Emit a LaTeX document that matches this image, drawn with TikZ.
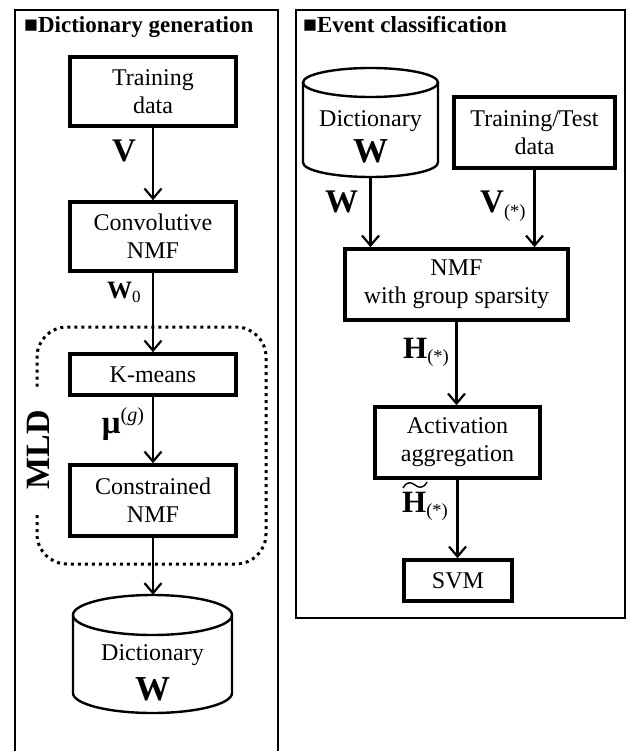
\documentclass[tikz,border=0pt]{standalone}
\usepackage{fontspec}
\setmainfont{Liberation Serif}
\usetikzlibrary{arrows.meta}
\newcommand{\mysub}[1]{\raisebox{-4.5pt}{\fontsize{18.5}{18.5}\selectfont\mdseries #1}}
\newcommand{\mysup}[1]{\raisebox{12pt}{\fontsize{20}{20}\selectfont\mdseries #1}}
\begin{document}
\begin{tikzpicture}[x=1pt,y=-1pt,
  frame/.style={draw, line width=1.7pt},
  proc/.style={draw, line width=3.6pt, inner sep=0pt, align=center, font=\fontsize{24}{28}\selectfont},
  cyl/.style={line width=2.4pt},
  flow/.style={line width=2.2pt, -{Straight Barb[length=10pt,width=17pt]}},
  lbl/.style={inner sep=0pt, anchor=base west, font=\fontsize{33}{33}\selectfont\bfseries},
  ttl/.style={inner sep=0pt, anchor=base west, font=\fontsize{23}{26}\selectfont\bfseries},
  ctext/.style={inner sep=0pt, anchor=base, font=\fontsize{24}{28}\selectfont},
  cw/.style={inner sep=0pt, anchor=base, font=\fontsize{35}{35}\selectfont\bfseries},
  mld/.style={draw, line width=3pt, dash pattern=on 3pt off 4pt, rounded corners=30pt}
]
\useasboundingbox (0,0) rectangle (629,751);

% panels
\draw[frame] (15,770) -- (15,10) -- (278,10) -- (278,770);
\draw[frame] (296,10) rectangle (625,618);

% titles
\node[ttl] (t1) at (24,33) {■Dictionary generation};
\node[ttl] (t2) at (303,33) {■Event classification};

% left column
\node[proc, minimum width=166pt, minimum height=69pt] (train) at (153,91.5) {Training\\data};
\node[proc, minimum width=166pt, minimum height=69pt] (conv) at (153,236.5) {Convolutive\\NMF};
\node[proc, minimum width=166pt, minimum height=41pt] (kmeans) at (153,374.5) {K-means};
\node[proc, minimum width=166pt, minimum height=71pt] (cnmf) at (153,500.5) {Constrained\\NMF};

\node[minimum width=159pt, minimum height=118pt, inner sep=0pt] (dictL) at (152.5,654) {};
\draw[cyl] (152.5,615) ellipse [x radius=79.5pt, y radius=20pt];
\draw[cyl] (73,615) -- (73,693) arc[start angle=180, end angle=360, x radius=79.5pt, y radius=20pt] -- (232,615);
\node[ctext] (dictLa) at (152.5,660) {Dictionary};
\node[cw] (dictLb) at (152.5,700) {W};

% MLD group
\draw[mld] (37,515) -- (37,564) -- (266,564) -- (266,327) -- (37,327) -- (37,387);
\node[rotate=90, inner sep=0pt, font=\fontsize{34}{34}\selectfont\bfseries] (mldlbl) at (38.5,450) {MLD};

% left arrows
\draw[flow] (train) -- (conv);
\draw[flow] (conv) -- (kmeans);
\draw[flow] (kmeans) -- (cnmf);
\draw[flow] (cnmf.south) -- (cnmf.south |- dictL.north);

% left labels
\node[lbl] (lV) at (112,162) {V};
\node[lbl, font=\fontsize{25}{25}\selectfont\bfseries] (lW0) at (107,298) {W\raisebox{-4pt}{\fontsize{17}{17}\selectfont\mdseries 0}};
\node[lbl, anchor=center] (lmu) at (123,424) {μ\mysup{(\textit{g})}};

% right column
\node[minimum width=135pt, minimum height=109pt, inner sep=0pt] (dictR) at (370.5,122.5) {};
\draw[cyl] (370.5,82.5) ellipse [x radius=67.5pt, y radius=14.5pt];
\draw[cyl] (303,82.5) -- (303,162.5) arc[start angle=180, end angle=360, x radius=67.5pt, y radius=14.5pt] -- (438,82.5);
\node[ctext] (dictRa) at (370.5,127) {Dictionary};
\node[cw] (dictRb) at (370.5,163) {W};

\node[proc, line width=4.2pt, minimum width=161pt, minimum height=71pt] (tt) at (534.5,132.5) {Training/Test\\data};
\node[proc, minimum width=223pt, minimum height=71pt] (nmf) at (456.5,284.5) {NMF\\with group sparsity};
\node[proc, minimum width=165pt, minimum height=71pt] (act) at (457.5,442.5) {Activation\\aggregation};
\node[proc, minimum width=108pt, minimum height=41pt] (svm) at (458,580.5) {SVM};

% right arrows
\draw[flow] (dictR.south) -- (dictR.south |- nmf.north);
\draw[flow] (tt.south) -- (tt.south |- nmf.north);
\draw[flow] (nmf.south) -- (nmf.south |- act.north);
\draw[flow] (act.south) -- (act.south |- svm.north);

% right labels
\node[lbl] (lW) at (325,213) {W};
\node[lbl] (lVs) at (480,213) {V\mysub{(*)}};
\node[lbl, font=\fontsize{31}{31}\selectfont\bfseries] (lH) at (403,358) {H\mysub{(*)}};
\node[lbl, font=\fontsize{31}{31}\selectfont\bfseries] (lHt) at (402,512) {H\mysub{(*)}};
\draw[line width=1.4pt] (403,488) .. controls (407,481) and (411,482) .. (415,485) .. controls (419,488) and (423,489) .. (427,482);
\end{tikzpicture}
\end{document}
